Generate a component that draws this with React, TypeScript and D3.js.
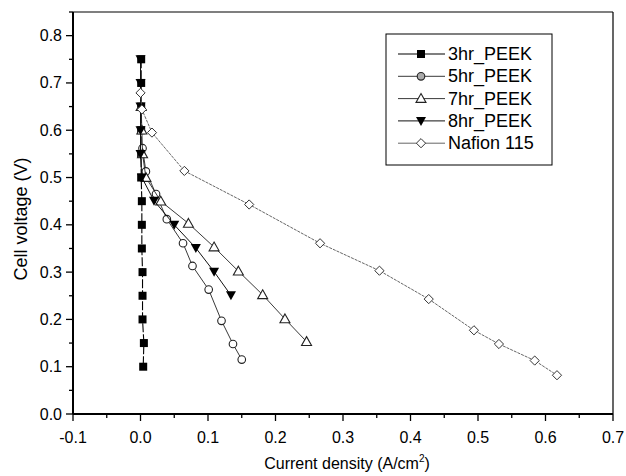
import React from 'react';
import * as d3 from 'd3';

// data: [current density A/cm2, cell voltage V]
const peek3hr: [number, number][] = [
  [0.001, 0.75], [0.001, 0.70], [0.001, 0.65], [0.001, 0.60], [0.001, 0.55], [0.001, 0.50],
  [0.002, 0.45], [0.002, 0.40], [0.002, 0.35], [0.003, 0.30], [0.003, 0.25], [0.003, 0.20],
  [0.005, 0.15], [0.004, 0.10],
];
const peek5hr: [number, number][] = [
  [0.003, 0.562], [0.008, 0.513], [0.023, 0.465], [0.039, 0.412], [0.063, 0.361],
  [0.077, 0.313], [0.101, 0.263], [0.120, 0.197], [0.137, 0.148], [0.150, 0.115],
];
const peek7hr: [number, number][] = [
  [0.001, 0.65], [0.002, 0.60], [0.003, 0.55], [0.008, 0.50], [0.030, 0.45], [0.071, 0.403],
  [0.109, 0.353], [0.145, 0.302], [0.181, 0.252], [0.214, 0.201], [0.246, 0.153],
];
const peek8hr: [number, number][] = [
  [0.0, 0.75], [0.0, 0.70], [0.0, 0.65], [0.0, 0.60], [0.0, 0.55], [0.002, 0.50],
  [0.020, 0.451], [0.050, 0.400], [0.082, 0.351], [0.109, 0.301], [0.134, 0.251],
];
const nafion: [number, number][] = [
  [0.0, 0.679], [0.002, 0.644], [0.017, 0.595], [0.065, 0.514], [0.161, 0.443], [0.266, 0.361],
  [0.354, 0.303], [0.427, 0.243], [0.494, 0.177], [0.531, 0.148], [0.584, 0.113], [0.617, 0.082],
];

const seriesNames = ['3hr_PEEK', '5hr_PEEK', '7hr_PEEK', '8hr_PEEK', 'Nafion 115'];
const xTicks = ['-0.1', '0.0', '0.1', '0.2', '0.3', '0.4', '0.5', '0.6', '0.7'];
const yTicks = ['0.0', '0.1', '0.2', '0.3', '0.4', '0.5', '0.6', '0.7', '0.8'];

const W = 626, H = 476;
const m = { left: 73, right: 613, top: 12, bottom: 414 };
const font = 'Liberation Sans, Arial, sans-serif';

type Kind = 'square' | 'circle' | 'tri' | 'tridown' | 'diamond';

const Marker = ({ kind, x, y, legend }: { kind: Kind; x: number; y: number; legend?: boolean }) => {
  if (kind === 'square')
    return <rect x={x - 4} y={y - 4} width={8} height={8} fill="#000" />;
  if (kind === 'circle')
    return <circle cx={x} cy={y} r={3.8} fill={legend ? '#aaa' : '#fff'} stroke="#222" strokeWidth={1.1} />;
  if (kind === 'tri')
    return <path d={`M${x},${y - 5}L${x + 5},${y + 3.8}L${x - 5},${y + 3.8}Z`} fill="#fff" stroke="#222" strokeWidth={1.1} />;
  if (kind === 'tridown')
    return <path d={`M${x - 5},${y - 4}L${x + 5},${y - 4}L${x},${y + 5}Z`} fill="#000" />;
  return <path d={`M${x},${y - 4.6}L${x + 4.6},${y}L${x},${y + 4.6}L${x - 4.6},${y}Z`} fill="#fff" stroke="#333" strokeWidth={1} />;
};

export default function App() {
  const x = d3.scaleLinear().domain([-0.1, 0.7]).range([m.left, m.right]);
  const y = d3.scaleLinear().domain([0, 0.85]).range([m.bottom, m.top]);
  const line = d3.line<[number, number]>().x(d => x(d[0])).y(d => y(d[1]));

  const series: { name: string; data: [number, number][]; kind: Kind; stroke: string; dash?: string; sw: number }[] = [
    { name: seriesNames[0], data: peek3hr, kind: 'square', stroke: '#000', dash: '9 2', sw: 1.1 },
    { name: seriesNames[1], data: peek5hr, kind: 'circle', stroke: '#222', sw: 0.9 },
    { name: seriesNames[2], data: peek7hr, kind: 'tri', stroke: '#222', sw: 0.9 },
    { name: seriesNames[3], data: peek8hr, kind: 'tridown', stroke: '#111', sw: 1 },
    { name: seriesNames[4], data: nafion, kind: 'diamond', stroke: '#555', dash: '3 1', sw: 0.9 },
  ];

  const xMinor = d3.range(-0.1, 0.7001, 0.05);
  const yMinor = d3.range(0, 0.8501, 0.05);

  return (
    <svg width={W} height={H} style={{ position: 'absolute', left: 0, top: 0, background: '#fff' }} fontFamily={font}>
      {/* frame */}
      <line x1={m.left} x2={m.right} y1={m.top} y2={m.top} stroke="#000" strokeWidth={1.2} />
      <line x1={m.right} x2={m.right} y1={m.top} y2={m.bottom} stroke="#000" strokeWidth={1.2} />
      <line x1={m.left} x2={m.right} y1={m.bottom} y2={m.bottom} stroke="#000" strokeWidth={2} />
      <line x1={m.left} x2={m.left} y1={m.top} y2={m.bottom} stroke="#000" strokeWidth={2} />

      {/* x axis ticks */}
      {xMinor.map((v, i) => (
        <line key={'xm' + i} x1={x(v)} x2={x(v)} y1={m.bottom} y2={m.bottom + (i % 2 === 0 ? 7 : 4)} stroke="#000" strokeWidth={1.3} />
      ))}
      {xTicks.map(t => (
        <text key={'xt' + t} x={x(+t)} y={443} fontSize={16} textAnchor="middle" fill="#000">{t}</text>
      ))}
      {/* y axis ticks */}
      {yMinor.map((v, i) => (
        <line key={'ym' + i} x1={m.left} x2={m.left - (i % 2 === 0 ? 7 : 4)} y1={y(v)} y2={y(v)} stroke="#000" strokeWidth={1.3} />
      ))}
      {yTicks.map(t => (
        <text key={'yt' + t} x={62} y={y(+t) + 5.5} fontSize={16} textAnchor="end" fill="#000">{t}</text>
      ))}

      {/* axis titles */}
      <text x={(m.left + m.right) / 2 + 4} y={469} fontSize={16} textAnchor="middle" fill="#000">
        Current density (A/cm<tspan dy={-7} fontSize={10}>2</tspan><tspan dy={7}>)</tspan>
      </text>
      <text transform="translate(27,219) rotate(-90)" fontSize={18} textAnchor="middle" fill="#000">
        Cell voltage (V)
      </text>

      {/* series */}
      {series.map(s => (
        <g key={s.name}>
          <path d={line(s.data) || ''} fill="none" stroke={s.stroke} strokeWidth={s.sw} strokeDasharray={s.dash} />
          {s.data.map((d, i) => <Marker key={i} kind={s.kind} x={x(d[0])} y={y(d[1])} />)}
        </g>
      ))}

      {/* legend */}
      <g>
        <rect x={386} y={34} width={166} height={131} fill="#fff" stroke="#000" strokeWidth={1} />
        {series.map((s, i) => {
          const ly = 54 + i * 22.3;
          return (
            <g key={'lg' + s.name}>
              <line x1={398} x2={445} y1={ly} y2={ly} stroke={s.stroke} strokeWidth={s.sw} />
              <Marker kind={s.kind} x={421} y={ly} legend />
              <text x={448} y={ly + 6} fontSize={18} fill="#000">{s.name}</text>
            </g>
          );
        })}
      </g>
    </svg>
  );
}
